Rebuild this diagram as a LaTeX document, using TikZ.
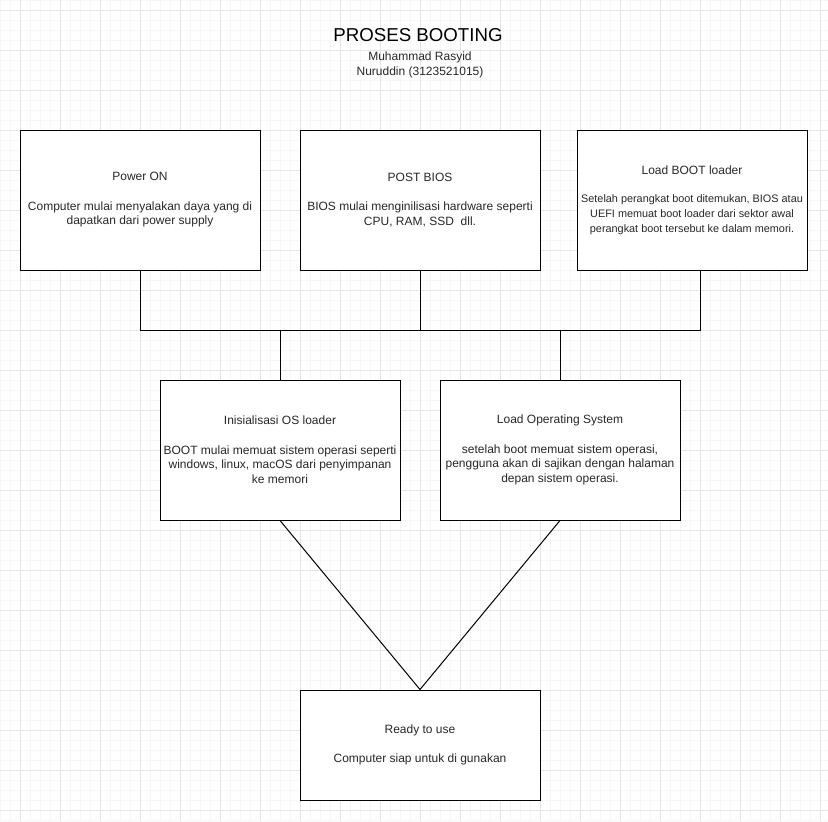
\documentclass[tikz,border=0pt]{standalone}
\usepackage{fontspec}
\setmainfont{Liberation Sans}
\definecolor{gridminor}{RGB}{247,247,247}
\definecolor{gridmajor}{RGB}{228,228,228}
\definecolor{textgray}{RGB}{40,40,40}
\tikzset{
  stage/.style={draw=black,line width=0.75pt,fill=white,minimum width=180pt,minimum height=105pt,
    align=center,text=textgray,font=\fontsize{9}{11}\selectfont,inner sep=0pt},
  link/.style={draw=black,line width=0.75pt}
}
\begin{document}
\begin{tikzpicture}[x=0.75pt,y=-0.75pt]
  \useasboundingbox (0,0) rectangle (828,821);
  %\draw (0,0) rectangle (828,821);
  \foreach \x in {0,10,...,820} \draw[gridminor,line width=0.5pt] (\x,0) -- (\x,821);
  \foreach \y in {0,10,...,820} \draw[gridminor,line width=0.5pt] (0,\y) -- (828,\y);
  \foreach \x in {20,60,...,820} \draw[gridmajor,line width=0.5pt] (\x,0) -- (\x,821);
  \foreach \y in {10,50,...,810} \draw[gridmajor,line width=0.5pt] (0,\y) -- (828,\y);
  \node [font=\fontsize{14}{16}\selectfont] (title) at (418,35) {PROSES BOOTING};
  \node [text=textgray,align=center,font=\fontsize{9}{11.25}\selectfont] (author) at (420,65) {Muhammad Rasyid\\Nuruddin (3123521015)};
  \node [stage] (power) at (140,200) {Power ON\\[11pt]Computer mulai menyalakan daya yang di\\dapatkan dari power supply};
  \node [stage] (bios) at (420,200) {POST BIOS\\[11pt]BIOS mulai menginilisasi hardware seperti\\CPU, RAM, SSD\ \ dll.};
  \node [stage,minimum width=172.5pt] (loader) at (692,200) {Load BOOT loader\\[10.5pt]{\fontsize{8.15}{11.25}\selectfont Setelah perangkat boot ditemukan, BIOS atau}\\{\fontsize{8.15}{11.25}\selectfont UEFI memuat boot loader dari sektor awal}\\{\fontsize{8.15}{11.25}\selectfont perangkat boot tersebut ke dalam memori.}};
  \node [stage] (osl) at (280,450) {Inisialisasi OS loader\\[11pt]BOOT mulai memuat sistem operasi seperti\\windows, linux, macOS dari penyimpanan\\ke memori};
  \node [stage] (los) at (560,450) {Load Operating System\\[11pt]setelah boot memuat sistem operasi,\\pengguna akan di sajikan dengan halaman\\depan sistem operasi.};
  \node [stage,minimum height=82.5pt] (ready) at (420,745) {Ready to use\\[11pt]Computer siap untuk di gunakan};
  \coordinate (busL) at (140,330);
  \coordinate (busR) at (700,330);
  \draw [link] (power.south) -- (busL) -- (busR) -- (busR |- loader.south);
  \draw [link] (bios.south) -- (bios.south |- busL);
  \draw [link] (osl.north) -- (osl.north |- busL);
  \draw [link] (los.north) -- (los.north |- busL);
  \draw [link] (osl.south) -- (ready.north) -- (los.south);
\end{tikzpicture}
\end{document}
